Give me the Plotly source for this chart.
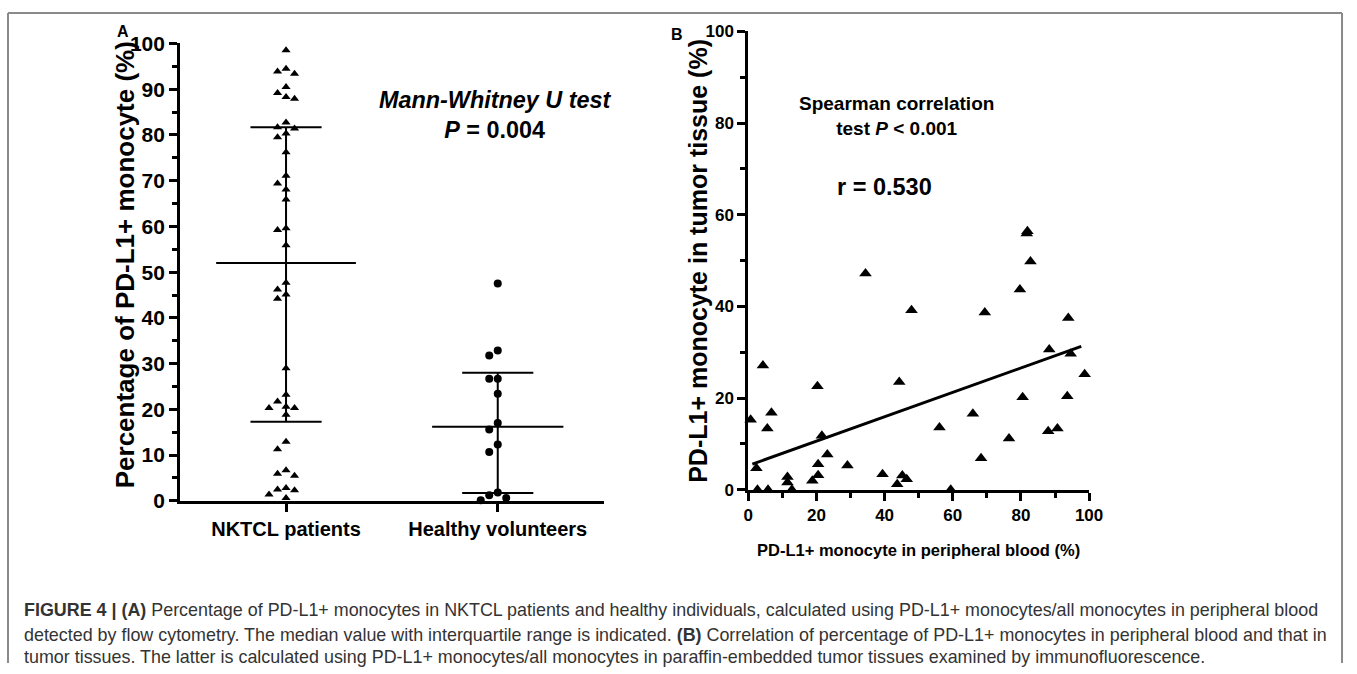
import plotly.graph_objects as go

# ---------------- data ----------------
categories = ["NKTCL patients", "Healthy volunteers"]

nktcl_values = [98.5, 94.5, 93.4, 93.9, 90.5, 89.2, 87.9, 88.3, 82.7, 81.4, 81.7,
                79.5, 80.3, 76.2, 71.1, 69.4, 68.1, 65.9, 59.6, 59.2, 55.9,
                47.7, 46.2, 45.1, 44.2, 29.0, 21.7, 23.2, 20.6, 20.3, 20.3, 18.8,
                12.9, 11.3, 5.9, 5.5, 6.7, 2.8, 2.3, 0.6, 1.4, 2.5]
healthy_values = [47.5, 32.9, 31.8, 26.7, 26.7, 23.4, 17.0, 15.6, 12.3, 10.7,
                  1.8, 1.25, 0.6, 0.15]

group_median = [52.0, 16.2]
group_q1 = [17.3, 1.7]
group_q3 = [81.7, 28.0]

blood_pct = [0.7, 2.4, 2.7, 4.3, 5.6, 5.8, 6.8, 11.5, 11.5, 12.8, 18.8, 20.3, 20.5,
             20.5, 21.6, 23.2, 29.1, 34.4, 39.4, 43.7, 44.3, 45.2, 46.5, 47.9, 56.1,
             59.4, 65.9, 68.3, 69.4, 76.5, 79.7, 80.5, 82.8, 81.7, 81.9, 88.0, 88.3,
             90.7, 93.6, 93.9, 94.6, 98.7]
tissue_pct = [15.3, 4.7, 0.0, 27.1, 13.4, 0.0, 16.8, 2.8, 1.6, 0.0, 2.0, 22.6, 5.6,
              3.2, 11.8, 7.7, 5.3, 47.2, 3.4, 1.2, 23.5, 3.1, 2.3, 39.2, 13.6,
              0.0, 16.6, 6.9, 38.7, 11.2, 43.7, 20.2, 49.8, 55.9, 56.4, 12.8, 30.6,
              13.4, 20.4, 37.5, 29.7, 25.2]

fit_x = [1.2, 97.7]
fit_y = [5.6, 31.3]

yticks_a = list(range(0, 101, 10))
ticks_b = list(range(0, 101, 20))

caption_lines = [
    "<b>FIGURE 4 | (A)</b> Percentage of PD-L1+ monocytes in NKTCL patients and healthy individuals, calculated using PD-L1+ monocytes/all monocytes in peripheral blood",
    "detected by flow cytometry. The median value with interquartile range is indicated. <b>(B)</b> Correlation of percentage of PD-L1+ monocytes in peripheral blood and that in",
    "tumor tissues. The latter is calculated using PD-L1+ monocytes/all monocytes in paraffin-embedded tumor tissues examined by immunofluorescence.",
]

# ---------------- layout (target pixel positions) ----------------
W, H = 1357, 674
# observed photo calibration: photo = offset + scale * page
OX, OY, SX, SY = 5.0, 12.6, 0.985, 0.963

A_X0, A_X1, A_Y0, A_Y1 = 180, 603, 500, 44
B_X0, B_X1, B_Y0, B_Y1 = 747.5, 1088, 489, 32

FONT = "Liberation Sans, Arial, Helvetica, sans-serif"


def px(x):
    d = (x - OX) / SX
    return min(max(d, 1), W - 1) / W


def py(y):
    d = (y - OY) / SY
    return 1 - min(max(d, 1), H - 1) / H


def swarm(vals, center, px_per_cat, px_per_val, step_px, diam_px):
    placed = []
    xs = [0.0] * len(vals)
    order = sorted(range(len(vals)), key=lambda i: -vals[i])
    for i in order:
        ypx = vals[i] * px_per_val
        k = 0
        chosen = None
        while chosen is None:
            cands = [0] if k == 0 else [-k, k]
            for c in cands:
                xpx = c * step_px
                if all((xpx - a) ** 2 + (ypx - b) ** 2 >= diam_px ** 2 for a, b in placed):
                    chosen = xpx
                    break
            k += 1
        placed.append((chosen, ypx))
        xs[i] = center + chosen / px_per_cat
    return xs


px_per_cat = (A_X1 - A_X0) / 2.0
px_per_val = (A_Y0 - A_Y1) / 100.0
x_nk = swarm(nktcl_values, 0, px_per_cat, px_per_val, 8.5, 8.2)
x_hv = swarm(healthy_values, 1, px_per_cat, px_per_val, 8.5, 8.2)

fig = go.Figure()

# Panel A points
fig.add_trace(go.Scatter(x=x_nk, y=nktcl_values, mode="markers", xaxis="x", yaxis="y",
                         marker=dict(symbol="triangle-up", size=8, color="black"),
                         cliponaxis=False, showlegend=False, name=categories[0]))
fig.add_trace(go.Scatter(x=x_hv, y=healthy_values, mode="markers", xaxis="x", yaxis="y",
                         marker=dict(symbol="circle", size=8, color="black"),
                         cliponaxis=False, showlegend=False, name=categories[1]))

# median + IQR
for ci in range(len(categories)):
    med_half = 0.33 if ci == 0 else 0.31
    cap_half = 0.168
    xs = [ci - med_half, ci + med_half, None, ci - cap_half, ci + cap_half, None,
          ci - cap_half, ci + cap_half, None, ci, ci]
    ys = [group_median[ci], group_median[ci], None, group_q3[ci], group_q3[ci], None,
          group_q1[ci], group_q1[ci], None, group_q1[ci], group_q3[ci]]
    fig.add_trace(go.Scatter(x=xs, y=ys, mode="lines", xaxis="x", yaxis="y",
                             line=dict(color="black", width=2), cliponaxis=False,
                             showlegend=False, hoverinfo="skip"))

# Panel B
fig.add_trace(go.Scatter(x=fit_x, y=fit_y, mode="lines", xaxis="x2", yaxis="y2",
                         line=dict(color="black", width=3), showlegend=False))
fig.add_trace(go.Scatter(x=blood_pct, y=tissue_pct, mode="markers", xaxis="x2", yaxis="y2",
                         marker=dict(symbol="triangle-up", size=11, color="black"),
                         cliponaxis=False, showlegend=False))

axis_common = dict(showgrid=False, zeroline=False, showline=True, linecolor="black",
                   linewidth=3, ticks="outside", tickcolor="black", tickwidth=2.5,
                   ticklen=8, mirror=False)
minor_common = dict(ticks="outside", ticklen=5, tickwidth=2.5, tickcolor="black")

fig.update_layout(
    autosize=True,
    margin=dict(l=0, r=0, t=0, b=0, pad=0),
    paper_bgcolor="white", plot_bgcolor="white",
    xaxis=dict(domain=[px(A_X0), px(A_X1)], anchor="y", range=[-0.5, 1.5],
               tickmode="array", tickvals=[0, 1], ticktext=categories,
               tickfont=dict(family=FONT, size=20, color="black", weight="bold"),
               **axis_common),
    yaxis=dict(domain=[py(A_Y0), py(A_Y1)], anchor="x", range=[0, 100],
               tickmode="array", tickvals=yticks_a,
               tickfont=dict(family=FONT, size=21, color="black", weight="bold"),
               minor=dict(dtick=5, tick0=0, **minor_common),
               **axis_common),
    xaxis2=dict(domain=[px(B_X0), px(B_X1)], anchor="y2", range=[0, 100],
                tickmode="array", tickvals=ticks_b,
                tickfont=dict(family=FONT, size=17, color="black", weight="bold"),
                minor=dict(dtick=10, tick0=0, **minor_common),
                **axis_common),
    yaxis2=dict(domain=[py(B_Y0), py(B_Y1)], anchor="x2", range=[0, 100],
                tickmode="array", tickvals=ticks_b,
                tickfont=dict(family=FONT, size=17, color="black", weight="bold"),
                minor=dict(dtick=10, tick0=0, **minor_common),
                **axis_common),
)


def note(text, x, y, size, xanchor="center", angle=0, color="black", align="center"):
    return dict(text=text, x=px(x), y=py(y), xref="paper", yref="paper",
                xanchor=xanchor, yanchor="middle", textangle=angle, showarrow=False,
                align=align, font=dict(family=FONT, size=size, color=color))


ann = [
    note("<b>A</b>", 123, 32, 16),
    note("<b>B</b>", 676, 35, 16),
    note("<b>Percentage of PD-L1+ monocyte (%)</b>", 125, 265, 26, angle=-90),
    note("<b>PD-L1+ monocyte in tumor tissue (%)</b>", 697, 261, 25, angle=-90),
    note("<b>PD-L1+ monocyte in peripheral blood (%)</b>", 918, 549, 16.5),
    note("<b><i>Mann-Whitney U test</i></b><br><b><i>P</i> = 0.004</b>", 495, 115, 23.4),
    note("<b>Spearman correlation</b><br><b>test <i>P</i> &lt; 0.001</b>", 896, 116, 19),
    note("<b>r = 0.530</b>", 834, 187, 23.5, xanchor="left"),
]
caption_y = [609, 633.5, 656]
for line, yy in zip(caption_lines, caption_y):
    ann.append(note(line, 22, yy, 17.9, xanchor="left", color="#333333", align="left"))
fig.update_layout(annotations=ann)

frame = dict(color="#8a8a8a", width=2)
fig.update_layout(shapes=[
    dict(type="line", xref="paper", yref="paper", x0=px(8), x1=px(1355), y0=py(8), y1=py(8), line=frame),
    dict(type="line", xref="paper", yref="paper", x0=px(8), x1=px(8), y0=py(8), y1=0, line=frame),
    dict(type="line", xref="paper", yref="paper", x0=px(1355), x1=px(1355), y0=py(8), y1=0, line=frame),
])

fig.write_html(
    "out.html",
    config={"displayModeBar": False},
    default_width="100vw",
    default_height="100vh",
    post_script="document.body.style.margin='0px';"
                "document.body.style.overflow='hidden';"
                "document.documentElement.style.overflow='hidden';",
)
